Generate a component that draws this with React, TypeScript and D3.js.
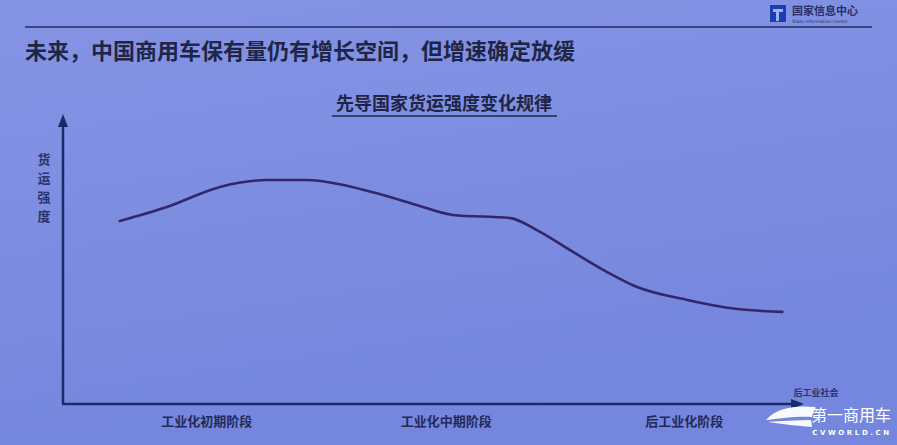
import React from "react";
import * as d3 from "d3";

const W = 897;
const H = 445;

// Stage progress (0-100) along the x-axis and freight intensity (0-100) on the y-axis
const progress = [7.7, 14.1, 21.3, 27.7, 33.1, 36.6, 43.4, 48.0, 52.9, 60.7, 64.3, 68.8, 73.3, 77.9, 84.7, 91.5, 97.6];
const intensity = [64.0, 68.9, 75.9, 78.3, 78.3, 77.3, 73.1, 69.6, 66.1, 65.0, 60.8, 53.8, 46.9, 40.9, 36.4, 33.2, 32.2];

const stageLabels = ["工业化初期阶段", "工业化中期阶段", "后工业化阶段"];
const stagePositions = [19.5, 52.0, 84.3];
const axisEndLabel = "后工业社会";
const yAxisLabel = ["货", "运", "强", "度"];

const pageTitle = "未来，中国商用车保有量仍有增长空间，但增速确定放缓";
const chartTitle = "先导国家货运强度变化规律";

export default function App() {
  const x = d3.scaleLinear().domain([0, 100]).range([63, 800]);
  const y = d3.scaleLinear().domain([0, 100]).range([404, 118]);

  const pts: [number, number][] = progress.map((p, i) => [p, intensity[i]]);
  const line = d3
    .line<[number, number]>()
    .x((d) => x(d[0]))
    .y((d) => y(d[1]))
    .curve(d3.curveMonotoneX);

  const font = "'Noto Sans CJK SC', 'Noto Sans', sans-serif";
  const dark = "#1f2547";

  return (
    <svg
      width={W}
      height={H}
      style={{ position: "fixed", left: 0, top: 0, display: "block" }}
      xmlns="http://www.w3.org/2000/svg"
    >
      <defs>
        <linearGradient id="bg" x1="0" y1="0" x2="0.3" y2="1">
          <stop offset="0%" stopColor="#8594e4" />
          <stop offset="100%" stopColor="#7486dd" />
        </linearGradient>
      </defs>
      <rect x={0} y={0} width={W} height={H} fill="url(#bg)" />

      {/* header logo */}
      <rect x={770} y={5} width={16} height={17} fill="#1b3fb0" />
      <rect x={773} y={9} width={10} height={3} fill="#9fb0f0" />
      <rect x={776} y={12} width={3} height={9} fill="#9fb0f0" />
      <text x={792} y={15} fontFamily={font} fontSize={11} fontWeight={700} fill="#2a2f6a">
        国家信息中心
      </text>
      <text x={792} y={23} fontFamily="'DejaVu Sans', sans-serif" fontSize={4.5} fill="#2a2f6a">
        State Information Center
      </text>
      <line x1={25} y1={27} x2={872} y2={27} stroke="#3d4680" strokeWidth={2} />

      {/* page title */}
      <text x={25} y={59} fontFamily={font} fontSize={22} fontWeight={700} fill={dark}>
        {pageTitle}
      </text>

      {/* chart title */}
      <text x={444} y={110} textAnchor="middle" fontFamily={font} fontSize={18} fontWeight={700} fill={dark}>
        {chartTitle}
      </text>
      <line x1={332} y1={116} x2={557} y2={116} stroke={dark} strokeWidth={1.5} />

      {/* axes */}
      <line x1={x(0)} y1={y(0)} x2={x(0)} y2={y(100) + 4} stroke="#1d2a6a" strokeWidth={2.5} />
      <path d={`M${x(0)},${y(100) - 4} L${x(0) - 5},${y(100) + 9} L${x(0) + 5},${y(100) + 9} Z`} fill="#1d2a6a" />
      <line x1={x(0) - 1} y1={y(0)} x2={x(100) - 6} y2={y(0)} stroke="#1d2a6a" strokeWidth={2.5} />
      <path d={`M${x(100) + 4},${y(0)} L${x(100) - 9},${y(0) - 5} L${x(100) - 9},${y(0) + 5} Z`} fill="#1d2a6a" />

      {/* y-axis label */}
      {yAxisLabel.map((c, i) => (
        <text
          key={c}
          x={44}
          y={164 + i * 19}
          textAnchor="middle"
          fontFamily={font}
          fontSize={13}
          fontWeight={700}
          fill="#2a3470"
        >
          {c}
        </text>
      ))}

      {/* stage labels */}
      {stageLabels.map((s, i) => (
        <text
          key={s}
          x={x(stagePositions[i])}
          y={426}
          textAnchor="middle"
          fontFamily={font}
          fontSize={13}
          fontWeight={700}
          fill="#232a5a"
        >
          {s}
        </text>
      ))}
      <text x={816} y={396} textAnchor="middle" fontFamily={font} fontSize={9} fontWeight={700} fill="#2a3470">
        {axisEndLabel}
      </text>

      {/* curve */}
      <path d={line(pts) ?? ""} fill="none" stroke="#33276a" strokeWidth={2.6} strokeLinecap="round" />

      {/* watermark */}
      <path d="M766,420 C776,408 795,405 815,407 L812,417 C798,416 784,418 766,420 Z" fill="#ffffff" opacity={0.95} />
      <path d="M768,422 C782,424 798,426 812,427 L811,420 C796,420 782,421 768,422 Z" fill="#ffffff" opacity={0.95} />
      <text x={851} y={421} textAnchor="middle" fontFamily={font} fontSize={16} fill="#ffffff">
        第一商用车
      </text>
      <text x={852} y={435} textAnchor="middle" fontFamily="'DejaVu Sans', sans-serif" fontSize={7} fontWeight={700} letterSpacing={2.6} fill="#ffffff">
        CVWORLD.CN
      </text>
    </svg>
  );
}
